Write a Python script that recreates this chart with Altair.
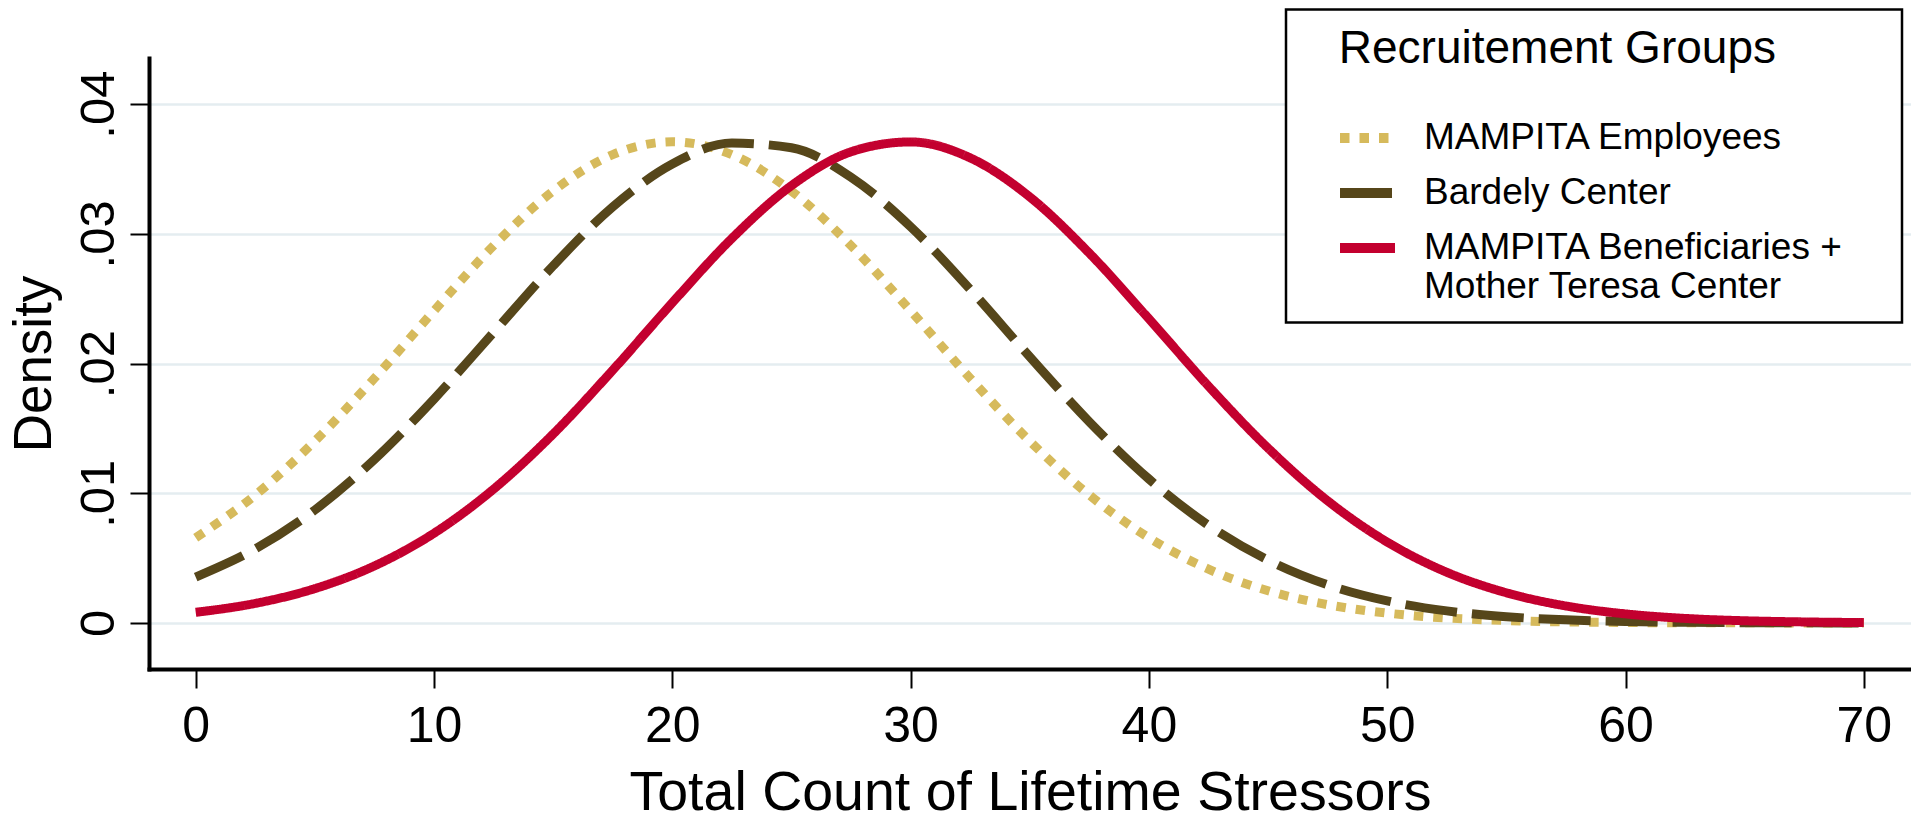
import altair as alt
import pandas as pd

groups = ["MAMPITA Employees", "Bardely Center", "MAMPITA Beneficiaries + Mother Teresa Center"]
colors = ["#d6ba5c", "#56461a", "#c3002f"]
dashes = [[9.5, 10], [52, 15], [1, 0]]

stressors = [0, 2.5, 5, 7.5, 10, 12.5, 15, 17.5, 20, 22.5, 25, 27.5, 30, 32.5, 35,
             37.5, 40, 42.5, 45, 47.5, 50, 52.5, 55, 57.5, 60, 62.5, 65, 67.5, 70]

employees = [0.00657, 0.00986, 0.01402, 0.01887, 0.02407, 0.02909, 0.03330, 0.03611,
             0.03710, 0.03611, 0.03330, 0.02909, 0.02407, 0.01887, 0.01402, 0.00986,
             0.00657, 0.00415, 0.00248, 0.00141, 0.00076, 0.00038, 0.00019, 0.00008,
             0.00004, 0.00001, 0.00001, 0.0, 0.0]

bardely = [0.00354, 0.00571, 0.00871, 0.01260, 0.01726, 0.02240, 0.02754, 0.03208,
           0.03539, 0.03700, 0.03664, 0.03437, 0.03055, 0.02572, 0.02052, 0.01551,
           0.01110, 0.00753, 0.00484, 0.00294, 0.00170, 0.00093, 0.00048, 0.00024,
           0.00011, 0.00005, 0.00002, 0.00001, 0.0]

beneficiaries = [0.00082, 0.00151, 0.00265, 0.00440, 0.00692, 0.01032, 0.01457, 0.01949,
                 0.02469, 0.02965, 0.03372, 0.03633, 0.03709, 0.03586, 0.03285, 0.02851,
                 0.02345, 0.01826, 0.01348, 0.00942, 0.00624, 0.00391, 0.00233, 0.00131,
                 0.00070, 0.00035, 0.00017, 0.00008, 0.00003]

x_ticks = [0, 10, 20, 30, 40, 50, 60, 70]
y_ticks = [0, 0.01, 0.02, 0.03, 0.04]

rows = []
for g, vals in zip(groups, [employees, bardely, beneficiaries]):
    for s, v in zip(stressors, vals):
        rows.append({"stressors": s, "density": v, "group": g})
df = pd.DataFrame(rows)

FONT = "Liberation Sans"
NB = "\u00a0"
ZW = "\u200b"

label_expr = ("datum.label == 'MAMPITA Beneficiaries + Mother Teresa Center' ? "
              "['MAMPITA Beneficiaries +" + NB * 4 + ZW + "', 'Mother Teresa Center'] : datum.label")

legend = alt.Legend(
    title=ZW + "\u2002" + NB + "Recruitement Groups",
    orient="none", legendX=1137, legendY=-48.5,
    direction="vertical",
    strokeColor="black", padding=17, fillColor="white",
    titleFont=FONT, titleFontSize=46, titleFontWeight="normal", titleColor="black",
    titlePadding=33, titleLimit=900,
    labelFont=FONT, labelFontSize=37, labelColor="black", labelLimit=900,
    labelExpr=label_expr, labelOffset=24,
    symbolType="stroke", symbolSize=3025, symbolStrokeWidth=10, symbolOffset=32,
    rowPadding=2,
)

xaxis = alt.Axis(
    values=x_ticks, title="Total Count of Lifetime Stressors",
    titleFont=FONT, titleFontSize=55.5, titleFontWeight="normal", titleColor="black",
    titleX=881, titleY=140, titleAlign="center", titleBaseline="alphabetic",
    labelFont=FONT, labelFontSize=50, labelColor="black", labelPadding=13,
    tickSize=19, tickWidth=2, tickColor="black",
    domainColor="black", domainWidth=4, domainCap="square", grid=False,
)

yaxis = alt.Axis(
    values=y_ticks, title="Density",
    labelExpr="datum.value == 0 ? '0' : replace(format(datum.value, '.2f'), '0.', '.')",
    titleFont=FONT, titleFontSize=53, titleFontWeight="normal", titleColor="black",
    titleAngle=270, titleX=-99, titleY=305.5, titleAlign="center", titleBaseline="alphabetic",
    labelFont=FONT, labelFontSize=49, labelColor="black", labelPadding=17,
    labelAngle=270, labelAlign="center", labelBaseline="alphabetic",
    tickSize=19, tickWidth=2, tickColor="black",
    domainColor="black", domainWidth=4, domainCap="square",
    grid=True, gridColor="#e4edf0", gridWidth=2.5,
)

chart = alt.Chart(df).mark_line(interpolate="monotone", strokeWidth=9, strokeCap="butt").encode(
    x=alt.X("stressors:Q", scale=alt.Scale(domain=[-1.96, 71.98], nice=False, zero=False), axis=xaxis),
    y=alt.Y("density:Q", scale=alt.Scale(domain=[-0.00355, 0.04356], nice=False, zero=False), axis=yaxis),
    color=alt.Color("group:N", scale=alt.Scale(domain=groups, range=colors), legend=legend),
    strokeDash=alt.StrokeDash("group:N", scale=alt.Scale(domain=groups, range=dashes), legend=legend),
).properties(
    width=1762, height=611,
    autosize=alt.AutoSizeParams(type="none"),
    padding={"left": 141, "top": 50, "right": 0, "bottom": 142},
    background="white",
).configure_view(stroke=None).configure_legend(strokeWidth=2.5)

chart.save("out.html", embed_options={"renderer": "svg", "actions": False})
